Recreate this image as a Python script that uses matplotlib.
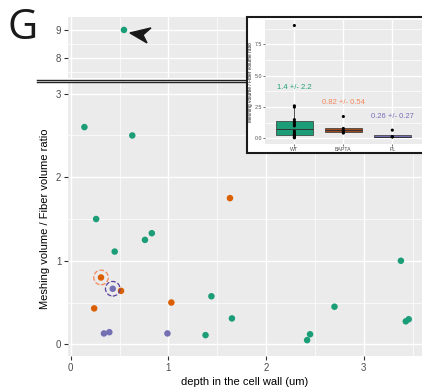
import numpy as np
import matplotlib
matplotlib.use("Agg")
import matplotlib.pyplot as plt
import matplotlib.transforms as mtransforms
from matplotlib.patches import Polygon, Rectangle
from matplotlib.lines import Line2D

plt.rcParams['font.family'] = ['Liberation Sans', 'DejaVu Sans']

# depth (um) and meshing/fiber volume ratio per group
wt_x = [0.14, 0.63, 0.26, 0.76, 0.83, 0.45, 1.44, 1.65, 1.38, 2.42, 2.45, 2.70, 3.38, 3.43, 3.46, 0.545]
wt_y = [2.60, 2.50, 1.50, 1.25, 1.33, 1.11, 0.575, 0.31, 0.11, 0.05, 0.12, 0.45, 1.00, 0.275, 0.30, 9.00]
bapta_x = [1.63, 0.31, 0.515, 0.24, 1.03]
bapta_y = [1.75, 0.80, 0.64, 0.43, 0.50]
pl_x = [0.43, 0.34, 0.395, 0.99]
pl_y = [0.665, 0.13, 0.145, 0.13]

groups = ["WT", "BAPTA", "PL"]
point_cols = ["#1B9E77", "#D95F02", "#7570B3"]
box_cols = ["#1B9E77", "#9A4A1E", "#7570B3"]
label_cols = ["#1FA072", "#F4875A", "#7A6DB8"]
mean_labels = ["1.4 +/- 2.2", "0.82 +/- 0.54", "0.26 +/- 0.27"]
label_y = [4.07, 2.9, 1.75]

# circled points (index into bapta / pl)
circ_bapta = 1
circ_pl = 0

W, H = 422, 387
fig = plt.figure(figsize=(W / 100, H / 100), dpi=100)

bg = "#EBEBEB"
tick_col = "#4D4D4D"

def style(ax):
    ax.set_facecolor(bg)
    for s in ax.spines.values():
        s.set_visible(False)
    ax.grid(which='major', color='white', lw=1.0)
    ax.grid(which='minor', color='white', lw=0.5)
    ax.set_axisbelow(True)
    ax.tick_params(which='major', colors="#333333", labelcolor=tick_col, length=2.75, width=0.8, labelsize=7, pad=2)
    ax.tick_params(which='minor', length=0)

# main panel
ax = fig.add_axes([68 / W, 1 - 356 / H, (W - 68) / W, (356 - 82) / H])
style(ax)
ax.set_xlim(-0.028, 3.596)
ax.set_ylim(-0.14, 3.14)
ax.set_xticks([0, 1, 2, 3])
ax.set_xticks([0.5, 1.5, 2.5, 3.5], minor=True)
ax.set_yticks([0, 1, 2, 3])
ax.set_yticks([0.5, 1.5, 2.5], minor=True)
ax.set_xlabel("depth in the cell wall (um)", fontsize=8, labelpad=3)
ax.set_ylabel("Meshing volume / Fiber volume ratio", fontsize=8, labelpad=4)

# top (broken) panel
axt = fig.add_axes([68 / W, 1 - 78 / H, (W - 68) / W, (78 - 17) / H])
style(axt)
axt.set_xlim(ax.get_xlim())
axt.set_ylim(7.29, 9.46)
axt.set_xticks([0, 1, 2, 3])
axt.set_xticks([0.5, 1.5, 2.5, 3.5], minor=True)
axt.set_yticks([8, 9])
axt.set_yticks([7.5, 8.5], minor=True)
axt.tick_params(axis='x', which='both', length=0, labelbottom=False)

for a in (ax, axt):
    for xs, ys, c in zip((wt_x, bapta_x, pl_x), (wt_y, bapta_y, pl_y), point_cols):
        a.scatter(xs, ys, s=22, color=c, edgecolors='none', zorder=3, clip_on=True)

ax.scatter([bapta_x[circ_bapta]], [bapta_y[circ_bapta]], s=110, facecolors='none',
           edgecolors="#F4875A", linewidths=0.9, linestyles='--', zorder=4)
ax.scatter([pl_x[circ_pl]], [pl_y[circ_pl]], s=110, facecolors='none',
           edgecolors="#5B3D9C", linewidths=0.9, linestyles='--', zorder=4)

# arrowhead pointing at the outlier
i_max = int(np.argmax(wt_y))
off = mtransforms.ScaledTranslation(wt_x[i_max], wt_y[i_max], axt.transData)
arrow = np.array([[6, -3], [27, 2], [19, -5], [23, -13]]) / 100.0
axt.add_patch(Polygon(arrow, closed=True, color="#1A1A1A", transform=fig.dpi_scale_trans + off,
                      zorder=5, clip_on=False))

# break marks
for yy in (79.5, 81.7):
    fig.add_artist(Line2D([37 / W, 1], [1 - yy / H] * 2, color="#222222", lw=1.0))

fig.text(7 / W, 1 - 28 / H, "G", fontsize=30, family=['Open Sans', 'DejaVu Sans'],
         va='center', ha='left', color="#1A1A1A")

# inset boxplot
fig.add_artist(Rectangle((247 / W, 1 - 153 / H), (W - 247 + 5) / W, (153 - 17) / H,
                         transform=fig.transFigure, facecolor='white', edgecolor='#1A1A1A',
                         lw=1.5, zorder=5))
axi = fig.add_axes([265 / W, 1 - 144 / H, (421.7 - 265) / W, (144 - 20) / H], zorder=6)
style(axi)

vals = [wt_y, bapta_y, pl_y]
bp = axi.boxplot(vals, positions=[1, 2, 3], widths=0.75, patch_artist=True, showfliers=False,
                 whis=1.5, showcaps=False, manage_ticks=False,
                 medianprops=dict(color="#333333", lw=0.7),
                 whiskerprops=dict(color="#333333", lw=0.6),
                 boxprops=dict(edgecolor="#333333", lw=0.5))
for patch, c in zip(bp['boxes'], box_cols):
    patch.set_facecolor(c)
for k, v in enumerate(vals):
    axi.scatter([k + 1] * len(v), v, s=5, color='black', edgecolors='none', zorder=4)
    axi.text(k + 1, label_y[k], mean_labels[k], color=label_cols[k], fontsize=5.5,
             ha='center', va='center')

axi.tick_params(which='major', length=1.2, width=0.5, labelsize=3.8, pad=0.8)
axi.set_xlim(0.4, 3.6)
axi.set_ylim(-0.44, 9.44)
axi.set_yticks([0, 2.5, 5, 7.5])
axi.set_yticklabels(["0.0", "2.5", "5.0", "7.5"])
axi.set_yticks([1.25, 3.75, 6.25, 8.75], minor=True)
axi.set_xticks([1, 2, 3])
axi.set_xticklabels(groups)
axi.set_ylabel("Meshing volume / Fiber volume ratio", fontsize=3.5, labelpad=1.5, color="#1A1A1A")

fig.savefig("out.png", dpi=100)
